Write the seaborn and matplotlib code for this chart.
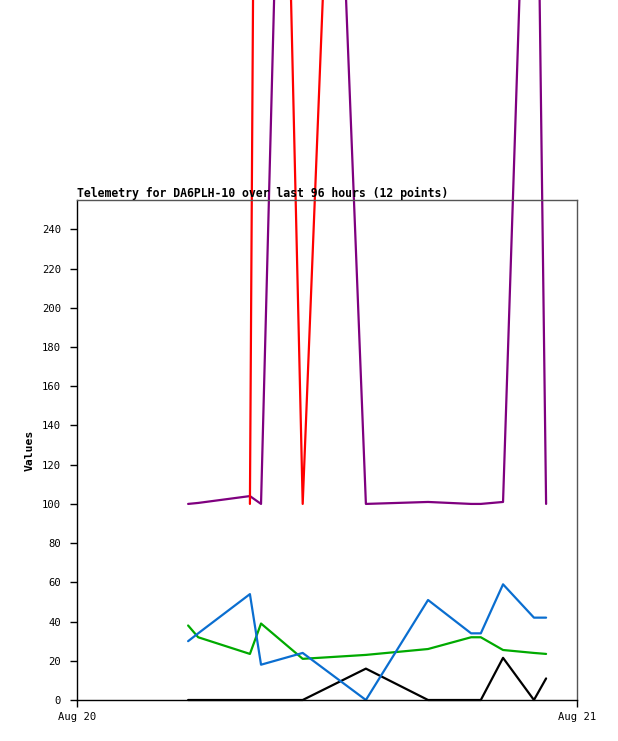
import numpy as np
import pandas as pd
import matplotlib
matplotlib.use("Agg")
import matplotlib.pyplot as plt
import matplotlib.dates as mdates
import seaborn as sns

# Datos (12 puntos de telemetría)
horas = ["05:20", "05:49", "08:18", "08:50", "10:50", "13:52",
         "16:51", "18:55", "19:23", "20:27", "21:56", "22:31"]
canal_negro = [0, 0, 0, 0, 0, 16, 0, 0, 0, 21.5, 0, 11]
canal_verde = [38, 32, 23.5, 39, 21, 23, 26, 32, 32, 25.5, 24, 23.5]
canal_azul = [30, 34, 54, 18, 24, 0, 51, 34, 34, 59, 42, 42]
canal_morado = [100, 100.5, 104, 100, 920, 100, 101, 100, 100, 101, 585, 100]
canal_rojo = [np.nan, np.nan, 100, 1020, 100, 910, 950, 960, 980, 990, 1000, 1000]

colores = {"negro": "#000000", "verde": "#00aa00", "azul": "#0a6ed0",
           "morado": "#7f007f", "rojo": "#ff0000"}

fecha = pd.Timestamp("2024-08-20")
tiempos = [fecha + pd.Timedelta(h) for h in [t + ":00" for t in horas]]

df = pd.concat([
    pd.DataFrame({"tiempo": tiempos, "valor": vals, "canal": nombre})
    for nombre, vals in [("negro", canal_negro), ("verde", canal_verde),
                         ("azul", canal_azul), ("morado", canal_morado),
                         ("rojo", canal_rojo)]
]).dropna()

sns.set_style("white")
plt.rcParams["font.family"] = ["DejaVu Sans Mono"]
plt.rcParams["text.color"] = "black"

fig = plt.figure(figsize=(6.18, 7.41), dpi=100)
ax = fig.add_axes([77 / 618, 41 / 741, 500 / 618, 500 / 741])

sns.lineplot(data=df, x="tiempo", y="valor", hue="canal", palette=colores,
             linewidth=1.6, errorbar=None, legend=False, ax=ax)
for linea in ax.lines:
    linea.set_clip_on(False)

ax.set_xlim(fecha, fecha + pd.Timedelta(days=1))
ax.set_ylim(0, 255)
ax.set_yticks(range(0, 241, 20))
ax.set_xticks([fecha, fecha + pd.Timedelta(days=1)])
ax.xaxis.set_major_formatter(mdates.DateFormatter("%b %d"))

ax.tick_params(axis="both", left=True, bottom=True, direction="out", length=5,
               width=1, color="black", labelcolor="black", labelsize=7.6, pad=6.5)
ax.tick_params(axis="x", pad=4)

for lado in ["left", "bottom"]:
    ax.spines[lado].set_color("black")
    ax.spines[lado].set_linewidth(1)
for lado in ["top", "right"]:
    ax.spines[lado].set_color("#555555")
    ax.spines[lado].set_linewidth(1)

ax.set_xlabel("")
ax.set_ylabel("Values", fontsize=8.2, fontweight="bold", labelpad=5, color="black")
ax.set_title("Telemetry for DA6PLH-10 over last 96 hours (12 points)",
             loc="left", fontsize=8.3, fontweight="bold", pad=2, color="black")

plt.savefig("out.png", dpi=100)
